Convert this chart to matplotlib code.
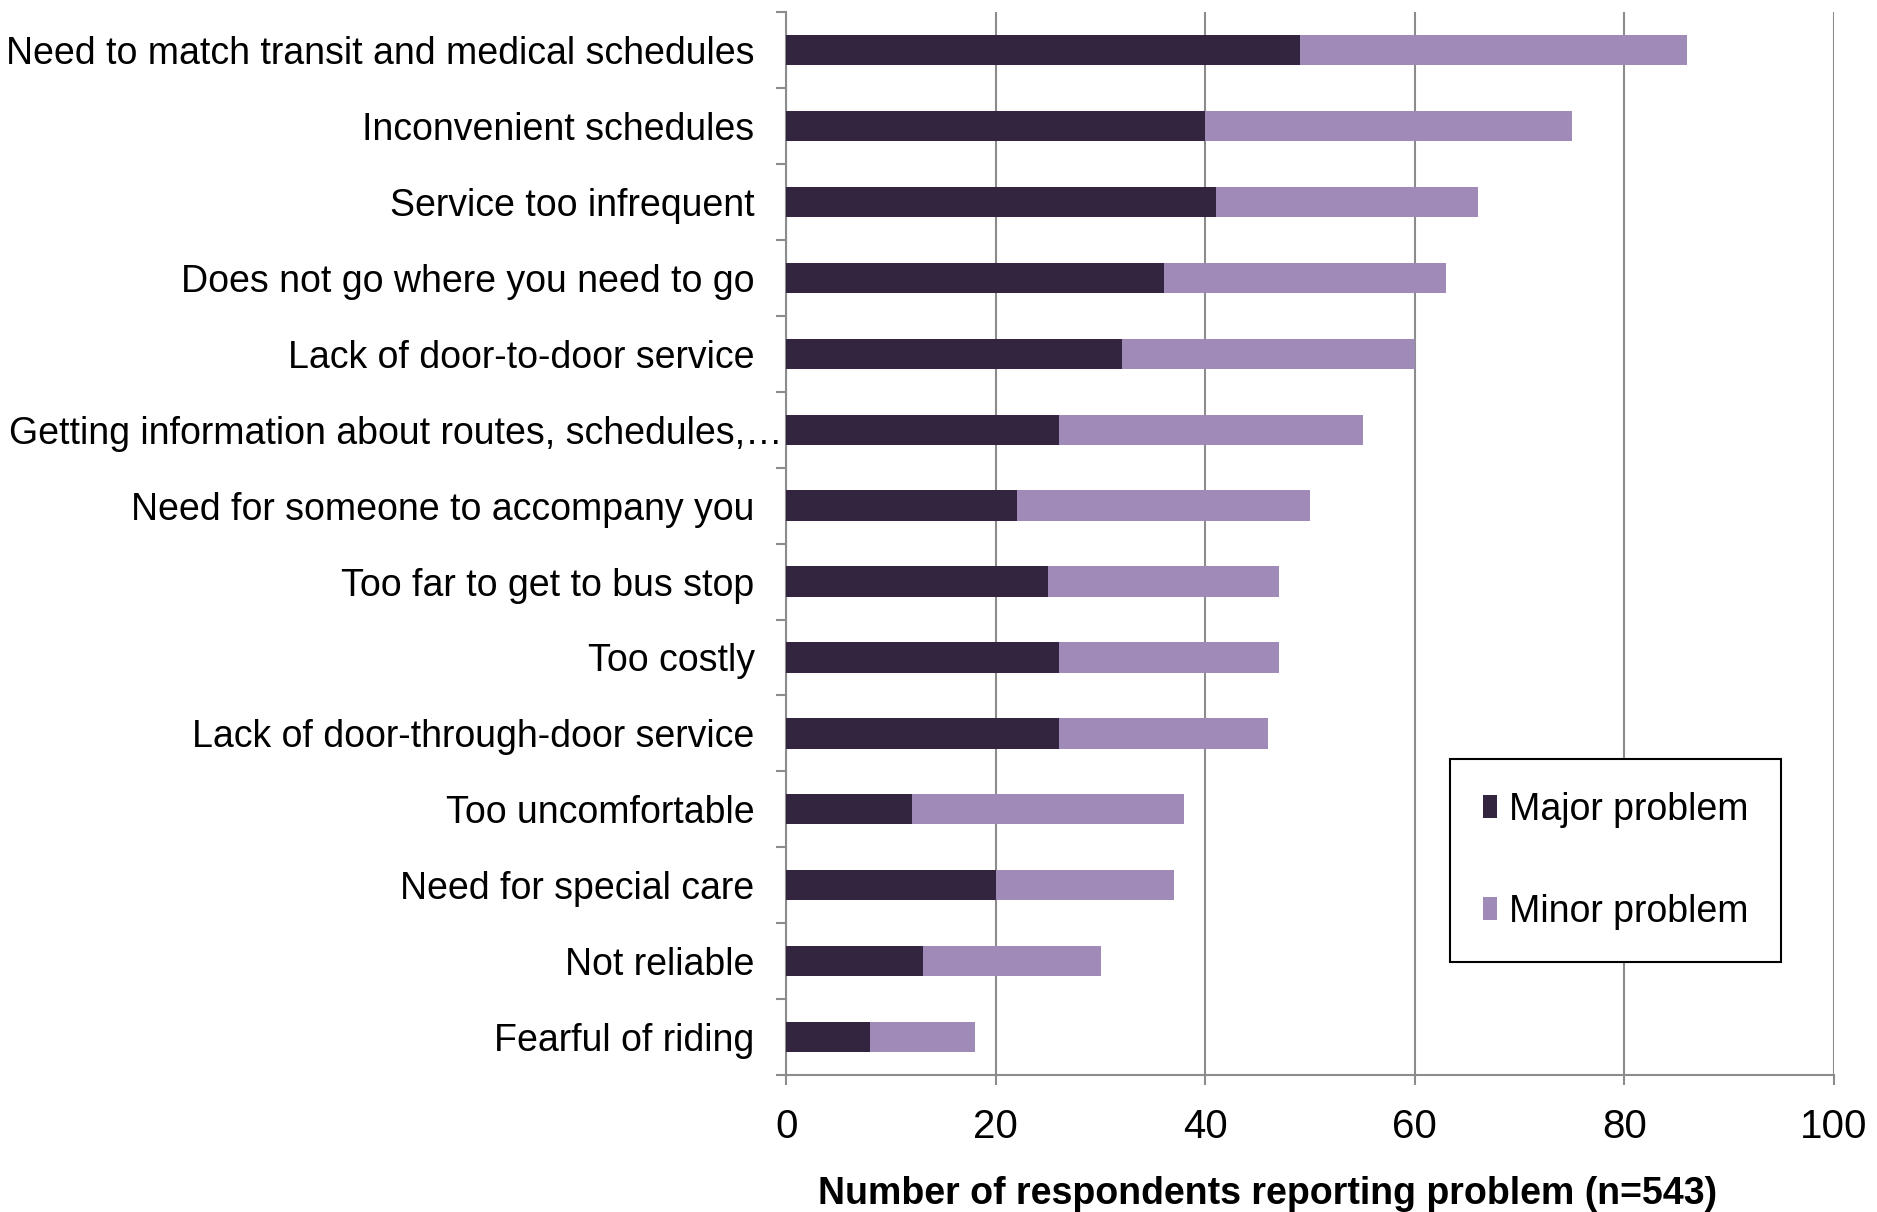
import matplotlib
matplotlib.use('Agg')
import matplotlib.pyplot as plt
from matplotlib.ticker import MultipleLocator
from matplotlib.transforms import ScaledTranslation

# Data
problems = [
    'Need to match transit and medical schedules',
    'Inconvenient schedules',
    'Service too infrequent',
    'Does not go where you need to go',
    'Lack of door-to-door service',
    'Getting information about routes, schedules,\u2026',
    'Need for someone to accompany you',
    'Too far to get to bus stop',
    'Too costly',
    'Lack of door-through-door service',
    'Too uncomfortable',
    'Need for special care',
    'Not reliable',
    'Fearful of riding',
]
major = [49, 40, 41, 36, 32, 26, 22, 25, 26, 26, 12, 20, 13, 8]
total = [86, 75, 66, 63, 60, 55, 50, 47, 47, 46, 38, 37, 30, 18]
minor = [t - m for t, m in zip(total, major)]

plt.rcParams['font.family'] = ['Liberation Sans', 'DejaVu Sans']

fig = plt.figure(figsize=(18.77, 12.12), dpi=100)
ax = fig.add_axes([0.419, 0.113, 0.558, 0.877])

pos = list(range(len(problems)))
ax.barh(pos, major, height=0.4, color='#33253f', label='Major problem', zorder=3)
ax.barh(pos, minor, left=major, height=0.4, color='#a08ab8', label='Minor problem', zorder=3)

ax.set_xlim(0, 100)
ax.set_ylim(len(problems) - 0.5, -0.5)
ax.xaxis.set_major_locator(MultipleLocator(20))
ax.grid(axis='x', color='#8c8c8c', linewidth=1.5, zorder=0)

ax.set_yticks(pos)
ax.set_yticklabels(problems)
ax.set_yticks([p - 0.5 for p in pos] + [len(problems) - 0.5], minor=True)
ax.tick_params(axis='y', which='major', length=0, pad=23, labelsize=27)
ax.tick_params(axis='y', which='minor', length=7, width=1.5, color='#8c8c8c')
ax.tick_params(axis='x', length=7, width=1.5, color='#8c8c8c', pad=17, labelsize=29)

# the long label runs up to the axis line, as in the original
lab = ax.get_yticklabels()[5]
lab.set_transform(lab.get_transform() + ScaledTranslation(0.28, 0, fig.dpi_scale_trans))

for s in ['top', 'right']:
    ax.spines[s].set_visible(False)
for s in ['left', 'bottom']:
    ax.spines[s].set_color('#8c8c8c')
    ax.spines[s].set_linewidth(1.5)

ax.set_xlabel('Number of respondents reporting problem (n=543)', fontsize=27,
              fontweight='bold', labelpad=21)
ax.xaxis.label.set_x(0.459)

leg = ax.legend(loc='lower left', bbox_to_anchor=(0.634, 0.106), fontsize=27,
                frameon=True, fancybox=False, edgecolor='black', framealpha=1,
                handlelength=0.38, handleheight=0.54, handletextpad=0.3,
                labelspacing=1.76, borderpad=0.87, borderaxespad=0)
leg.get_frame().set_linewidth(1.5)

fig.savefig('out.png', dpi=100, facecolor='white')
